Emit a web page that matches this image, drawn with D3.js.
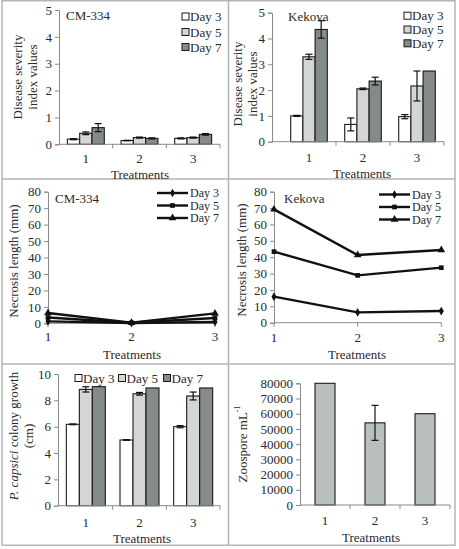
<!DOCTYPE html>
<html><head><meta charset="utf-8">
<script src="https://cdn.jsdelivr.net/npm/d3@7"></script>
<style>
body{margin:0;background:#fff;}
svg text{font-family:"Liberation Serif","Times New Roman","DejaVu Serif",serif !important;fill:#2a2a2a;}
</style></head><body>
<svg id="c" width="459" height="549"></svg>
<script>
// ---------- DATA ----------
const treatments = ["1","2","3"];
const days = ["Day 3","Day 5","Day 7"];
// Disease severity index, CM-334 (rows = treatments, cols = days)
const dsiCM = [[0.19,0.41,0.62],[0.14,0.25,0.22],[0.22,0.25,0.37]];
const dsiCMErr = [[0.02,0.05,0.15],[0.01,0.02,0.02],[0.02,0.02,0.03]];
// Disease severity index, Kekova
const dsiKe = [[1.0,3.29,4.35],[0.67,2.05,2.35],[0.97,2.16,2.74]];
const dsiKeErr = [[0.02,0.1,0.34],[0.25,0.03,0.15],[0.08,0.58,0.0]];
// Necrosis length (mm): rows = days, cols = treatments
const necCM = [[1.2,0.2,0.8],[3.5,0.3,3.2],[6.3,0.4,6.0]];
const necKe = [[15.9,6.3,7.1],[43.4,28.9,33.6],[69.2,41.3,44.4]];
// P. capsici colony growth (cm)
const colony = [[6.18,8.83,9.04],[4.99,8.5,8.94],[6.0,8.33,8.94]];
const colonyErr = [[0.03,0.2,0],[0.02,0.1,0],[0.08,0.3,0]];
// Zoospore per mL
const zoo = [80000,54000,60000];
const zooErr = [0,11500,0];
const dsiTicks = [0,1,2,3,4,5];
const necTicks = [0,10,20,30,40,50,60,70,80];
const colTicks = [0,2,4,6,8,10];
const zooTicks = [0,10000,20000,30000,40000,50000,60000,70000,80000];

// ---------- STYLE ----------
const SERIF = '"Liberation Serif","Times New Roman","DejaVu Serif",serif';
const dayFill = ["#ffffff","#d3d6d4","#858b88"];
const svg = d3.select("#c");
const FS = 13;
const axisCol = "#8a8a8a";
function T(sel){ return sel.style("font-family",SERIF).style("fill","#2a2a2a"); }

// panel frames
const frame = svg.append("g").attr("fill","none").attr("stroke","#b5b5b5").attr("stroke-width",1.5);
frame.append("rect").attr("x",2).attr("y",0.75).attr("width",453).attr("height",544.5);
frame.append("line").attr("x1",228.5).attr("x2",228.5).attr("y1",0).attr("y2",545);
frame.append("line").attr("x1",2).attr("x2",455).attr("y1",179).attr("y2",179);
frame.append("line").attr("x1",2).attr("x2",455).attr("y1",364).attr("y2",364);

function yAxis(y, ticks, x0, fmt){
  const g = svg.append("g").attr("transform",`translate(${x0},0)`);
  g.call(d3.axisLeft(y).tickValues(ticks).tickSize(4).tickFormat(fmt||d3.format("d")));
  g.attr("font-family",null).attr("font-size",null);
  g.select(".domain").attr("stroke",axisCol);
  g.selectAll(".tick line").attr("stroke",axisCol);
  T(g.selectAll(".tick text").attr("font-size",FS).attr("x",-7));
}
function txt(x,y,s,anchor,size){
  return T(svg.append("text").attr("x",x).attr("y",y).attr("text-anchor",anchor||"start")
    .attr("dominant-baseline","central").attr("font-size",size||FS).text(s));
}
function xBandAxis(x, yb, labY){
  const [a,b] = x.range();
  svg.append("line").attr("x1",a).attr("x2",b).attr("y1",yb).attr("y2",yb).attr("stroke",axisCol);
  const bw = x.step();
  treatments.forEach((t,i)=>{
    const xb = a + bw*(i+1);
    svg.append("line").attr("x1",xb).attr("x2",xb).attr("y1",yb).attr("y2",yb+4).attr("stroke",axisCol);
    txt(x(t)+x.bandwidth()/2, labY, t, "middle");
  });
}
function xTitle(cx, cy){ txt(cx, cy, "Treatments", "middle"); }
function yTitle(lines, xs, cy){
  lines.forEach((l,i)=>{
    const t = T(svg.append("text").attr("transform",`translate(${xs[i]},${cy}) rotate(-90)`)
      .attr("text-anchor","middle").attr("dominant-baseline","central").attr("font-size",FS));
    if (typeof l === "string") t.text(l);
    else l.forEach(p=>t.append("tspan").attr("font-style",p.it?"italic":null).text(p.t));
  });
}
function errBar(xc, y, v, e){
  if (!e) return;
  const g = svg.append("g").attr("stroke","#111").attr("stroke-width",1.2);
  g.append("line").attr("x1",xc).attr("x2",xc).attr("y1",y(v+e)).attr("y2",y(v-e));
  g.append("line").attr("x1",xc-3.5).attr("x2",xc+3.5).attr("y1",y(v+e)).attr("y2",y(v+e));
  g.append("line").attr("x1",xc-3.5).attr("x2",xc+3.5).attr("y1",y(v-e)).attr("y2",y(v-e));
}
function groupedBars(x, y, vals, errs, barW){
  const inner = d3.scaleBand().domain(days).range([0, barW*3]);
  treatments.forEach((t,i)=>{
    const gx = x(t) + (x.bandwidth() - barW*3)/2;
    days.forEach((d,j)=>{
      const v = vals[i][j];
      svg.append("rect").attr("x",gx+inner(d)).attr("y",y(v)).attr("width",inner.bandwidth())
        .attr("height",y(0)-y(v)).attr("fill",dayFill[j]).attr("stroke","#1a1a1a").attr("stroke-width",1.1);
      errBar(gx+inner(d)+inner.bandwidth()/2, y, v, errs[i][j]);
    });
  });
}
function squareLegend(items){
  items.forEach((it,j)=>{
    svg.append("rect").attr("x",it.x).attr("y",it.y-3.5).attr("width",7).attr("height",7)
      .attr("fill",dayFill[j]).attr("stroke","#1a1a1a").attr("stroke-width",1);
    txt(it.x+8, it.y, days[j], "start");
  });
}
const symbols = [d3.symbolDiamond, d3.symbolSquare, d3.symbolTriangle];
const symSize = [22,22,26];
function linePanel(x, y, data, legX, legY){
  const line = d3.line().x((d,i)=>x(treatments[i])).y(d=>y(d));
  data.forEach((s,j)=>{
    svg.append("path").attr("d",line(s)).attr("fill","none").attr("stroke","#111").attr("stroke-width",2.4);
    s.forEach((v,i)=>{
      svg.append("path").attr("d",d3.symbol(symbols[j],symSize[j])())
        .attr("transform",`translate(${x(treatments[i])},${y(v)})`).attr("fill","#111");
    });
    const ly = legY[j];
    svg.append("line").attr("x1",legX).attr("x2",legX+31).attr("y1",ly).attr("y2",ly).attr("stroke","#111").attr("stroke-width",2.4);
    svg.append("path").attr("d",d3.symbol(symbols[j],symSize[j])()).attr("transform",`translate(${legX+15.5},${ly})`).attr("fill","#111");
    txt(legX+33, ly, days[j], "start", 12);
  });
}
function pointAxis(x, yb, labY){
  const [a,b] = x.range();
  svg.append("line").attr("x1",a).attr("x2",b).attr("y1",yb).attr("y2",yb).attr("stroke",axisCol);
  treatments.forEach(t=>{
    svg.append("line").attr("x1",x(t)).attr("x2",x(t)).attr("y1",yb).attr("y2",yb+4).attr("stroke",axisCol);
    txt(x(t), labY, t, "middle");
  });
}

// ---------- Panel 1: DSI CM-334 ----------
{
  const y = d3.scaleLinear().domain([0,5]).range([144.3,10]);
  const x = d3.scaleBand().domain(treatments).range([59,220]);
  groupedBars(x, y, dsiCM, dsiCMErr, 12.3);
  yAxis(y, dsiTicks, 59);
  xBandAxis(x, 144.3, 158.5);
  xTitle(140, 174);
  yTitle(["Disease severity","index values"], [17,32], 77);
  txt(66, 15, "CM-334");
  squareLegend([{x:182,y:16.5},{x:182,y:32},{x:182,y:47}]);
}
// ---------- Panel 2: DSI Kekova ----------
{
  const y = d3.scaleLinear().domain([0,5]).range([141.7,12.7]);
  const x = d3.scaleBand().domain(treatments).range([282,444]);
  groupedBars(x, y, dsiKe, dsiKeErr, 12.2);
  yAxis(y, dsiTicks, 272);
  svg.append("line").attr("x1",272).attr("x2",282).attr("y1",141.7).attr("y2",141.7).attr("stroke",axisCol);
  xBandAxis(x, 141.7, 157);
  xTitle(362, 173);
  yTitle(["Disease severity","index values"], [237,252], 84);
  txt(288, 16, "Kekova");
  squareLegend([{x:404,y:15.7},{x:404,y:29.5},{x:404,y:43.3}]);
}
// ---------- Panel 3: Necrosis CM-334 ----------
{
  const y = d3.scaleLinear().domain([0,80]).range([323.3,191.7]);
  const x = d3.scalePoint().domain(treatments).range([48,215]);
  yAxis(y, necTicks, 48);
  pointAxis(x, 323.3, 336);
  linePanel(x, y, necCM, 157, [193,205.5,218]);
  xTitle(132, 354);
  yTitle(["Necrosis length (mm)"], [13], 261);
  txt(55, 198, "CM-334");
}
// ---------- Panel 4: Necrosis Kekova ----------
{
  const y = d3.scaleLinear().domain([0,80]).range([322.7,191.7]);
  const x = d3.scalePoint().domain(treatments).range([274,441.3]);
  yAxis(y, necTicks, 274);
  pointAxis(x, 322.7, 337);
  linePanel(x, y, necKe, 379, [194.5,207,219.5]);
  xTitle(357, 354);
  yTitle(["Necrosis length (mm)"], [241], 260);
  txt(284, 198, "Kekova");
}
// ---------- Panel 5: colony growth ----------
{
  const y = d3.scaleLinear().domain([0,10]).range([505.7,374]);
  const x = d3.scaleBand().domain(treatments).range([59,220]);
  groupedBars(x, y, colony, colonyErr, 13);
  yAxis(y, colTicks, 58);
  xBandAxis(x, 505.7, 522.5);
  xTitle(142, 538.5);
  yTitle([[{t:"P.  ",it:true},{t:"capsici",it:true},{t:" colony growth"}],"(cm)"], [13,28], 436);
  squareLegend([{x:75,y:378},{x:118.5,y:378},{x:163.5,y:378}]);
}
// ---------- Panel 6: zoospores ----------
{
  const y = d3.scaleLinear().domain([0,80000]).range([505,383.3]);
  const x = d3.scaleBand().domain(treatments).range([300,450]).paddingInner(0.6).paddingOuter(0.3);
  zoo.forEach((v,i)=>{
    svg.append("rect").attr("x",x(treatments[i])).attr("y",y(v)).attr("width",x.bandwidth())
      .attr("height",y(0)-y(v)).attr("fill","#b9c0bc").attr("stroke","#1a1a1a").attr("stroke-width",1.1);
    errBar(x(treatments[i])+x.bandwidth()/2, y, v, zooErr[i]);
  });
  yAxis(y, zooTicks, 300);
  svg.append("line").attr("x1",300).attr("x2",450).attr("y1",505).attr("y2",505).attr("stroke",axisCol);
  const step = 50;
  treatments.forEach((t,i)=>{
    const xb = 300 + step*(i+1);
    svg.append("line").attr("x1",xb).attr("x2",xb).attr("y1",505).attr("y2",509).attr("stroke",axisCol);
    txt(x(t)+x.bandwidth()/2, 520, t, "middle");
  });
  xTitle(371, 537);
  const zt = T(svg.append("text").attr("transform","translate(242,444) rotate(-90)").attr("text-anchor","middle")
    .attr("dominant-baseline","central").attr("font-size",FS));
  zt.append("tspan").text("Zoospore  mL");
  zt.append("tspan").attr("font-size",8).attr("dy",-5).text("-1");
}
</script></body></html>
